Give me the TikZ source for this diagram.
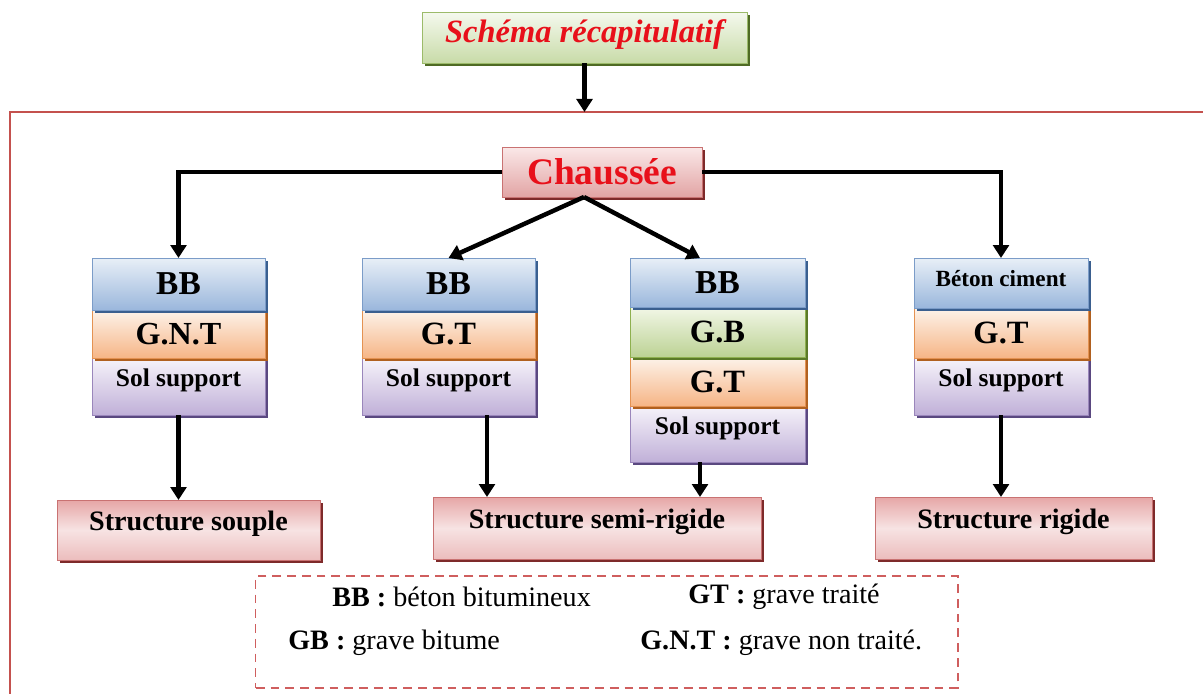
\documentclass[tikz,border=0pt]{standalone}
\usepackage{fontspec}
\setmainfont{Liberation Serif}
\usetikzlibrary{arrows.meta,shadows,calc}
\newlength\upx \setlength\upx{0.02cm}
\definecolor{bluTop}{HTML}{E8EFF7}
\definecolor{bluBot}{HTML}{9AB7DC}
\definecolor{bluLine}{HTML}{7B9CC8}
\definecolor{bluSh}{HTML}{3A5F8F}
\definecolor{orTop}{HTML}{FDF3EA}
\definecolor{orBot}{HTML}{F6B586}
\definecolor{orLine}{HTML}{E49252}
\definecolor{orSh}{HTML}{B0601F}
\definecolor{puTop}{HTML}{F6F3FA}
\definecolor{puBot}{HTML}{C0B0D8}
\definecolor{puLine}{HTML}{9A86BB}
\definecolor{puSh}{HTML}{5A4880}
\definecolor{grTop}{HTML}{F2F7E7}
\definecolor{grBot}{HTML}{BCD294}
\definecolor{grLine}{HTML}{8EB04F}
\definecolor{grSh}{HTML}{5B7A28}
\definecolor{pkTop}{HTML}{E6A6A6}
\definecolor{pkMid}{HTML}{F7E3E3}
\definecolor{pkBot}{HTML}{ECBDBD}
\definecolor{pkLine}{HTML}{C97272}
\definecolor{pkSh}{HTML}{7E2A2A}
\definecolor{chTop}{HTML}{FAE8E8}
\definecolor{chBot}{HTML}{E2A4A4}
\definecolor{tiTop}{HTML}{F5F9EE}
\definecolor{tiBot}{HTML}{C8DBA8}
\definecolor{tiLine}{HTML}{9CBB6A}
\definecolor{tiSh}{HTML}{4F6B25}
\definecolor{frameRed}{HTML}{C4514E}
\definecolor{dashRed}{HTML}{CF5E5E}
\definecolor{txtRed}{HTML}{E8101A}
\tikzset{
  boxbase/.style={inner sep=0pt, outer sep=0pt, anchor=north west, line width=0.5pt, text=black},
  sz/.style={font=\fontsize{#1pt}{#1pt}\selectfont\bfseries},
  shd/.style={drop shadow={shadow xshift=1.7pt, shadow yshift=-1.7pt, fill=#1, opacity=1}},
  bluelayer/.style={boxbase, draw=bluLine, top color=bluTop, bottom color=bluBot, shd=bluSh},
  orangelayer/.style={boxbase, draw=orLine, top color=orTop, bottom color=orBot, shd=orSh},
  purplelayer/.style={boxbase, draw=puLine, top color=puTop, bottom color=puBot, shd=puSh, text depth=9.6pt},
  greenlayer/.style={boxbase, draw=grLine, top color=grTop, bottom color=grBot, shd=grSh},
  pinkbox/.style={boxbase, draw=pkLine, top color=pkTop, bottom color=pkBot, middle color=pkMid, shd=pkSh},
  chbox/.style={boxbase, draw=pkLine, top color=chTop, bottom color=chBot, shd=pkSh},
  arr/.style={line width=2.55pt, -{Triangle[width=9pt,length=7.4pt]}},
  legtext/.style={anchor=west, inner sep=0pt, font=\fontsize{16pt}{16pt}\selectfont},
}
\begin{document}
\begin{tikzpicture}[x=0.02cm, y=-0.02cm]
\useasboundingbox (0,0) rectangle (1203,693);
\clip (0,0) rectangle (1203,693);
\fill[white] (0,0) rectangle (1203,693);

% outer frame (extends past right and bottom edges)
\draw[frameRed, line width=1.7pt] (1230,112) -- (10,112) -- (10,720);
\coordinate (ftop) at (585,112);

% title
\node[boxbase, draw=tiLine, top color=tiTop, bottom color=tiBot, shd=tiSh,
      minimum width=325\upx, minimum height=51\upx, text depth=7.5pt,
      text=txtRed, font=\fontsize{18.5pt}{18.5pt}\selectfont\bfseries\itshape]
      (ttl) at (422,12) {Schéma récapitulatif};

% Chaussee
\node[chbox, minimum width=200\upx, minimum height=50\upx, text=txtRed, sz=21.3]
      (ch) at (502,147) {Chaussée};

% column 1
\node[purplelayer, minimum width=173\upx, minimum height=57\upx, sz=14.5] (c1sol) at (92,358) {Sol support};
\node[orangelayer, minimum width=173\upx, minimum height=48\upx, sz=18.3] (c1gnt) at (92,310) {G.N.T};
\node[bluelayer,   minimum width=173\upx, minimum height=52\upx, sz=19] (c1bb) at (92,258) {BB};

% column 2
\node[purplelayer, minimum width=173\upx, minimum height=57\upx, sz=14.5] (c2sol) at (362,358) {Sol support};
\node[orangelayer, minimum width=173\upx, minimum height=48\upx, sz=18.5] (c2gt) at (362,310) {G.T};
\node[bluelayer,   minimum width=173\upx, minimum height=52\upx, sz=19] (c2bb) at (362,258) {BB};

% column 3
\node[purplelayer, minimum width=175\upx, minimum height=56\upx, sz=14.5] (c3sol) at (630,406) {Sol support};
\node[orangelayer, minimum width=175\upx, minimum height=49\upx, sz=18.5] (c3gt) at (630,357) {G.T};
\node[greenlayer,  minimum width=175\upx, minimum height=50\upx, sz=18.5] (c3gb) at (630,307) {G.B};
\node[bluelayer,   minimum width=175\upx, minimum height=49\upx, sz=19] (c3bb) at (630,258) {BB};

% column 4
\node[purplelayer, minimum width=174\upx, minimum height=57\upx, sz=14.5] (c4sol) at (914,358) {Sol support};
\node[orangelayer, minimum width=174\upx, minimum height=50\upx, sz=18.5] (c4gt) at (914,308) {G.T};
\node[bluelayer,   minimum width=174\upx, minimum height=50\upx, sz=13.2, text depth=5.7pt] (c4bb) at (914,258) {Béton ciment};

% structures
\node[pinkbox, minimum width=263\upx, minimum height=60\upx, sz=16, text depth=11pt] (ss) at (57,500) {Structure souple};
\node[pinkbox, minimum width=328\upx, minimum height=62\upx, sz=16, text depth=11pt] (ssr) at (433,497) {Structure semi-rigide};
\node[pinkbox, minimum width=277\upx, minimum height=62\upx, sz=16, text depth=11pt] (sr) at (875,497) {Structure rigide};

% connectors
\draw[arr] (ttl.south) -- (ttl.south |- ftop);
\draw[arr] (ch.west) -| (c1bb.north);
\draw[arr] (ch.east) -| (c4bb.north);
\coordinate (apex) at ([xshift=82\upx]ch.south west);
\coordinate (c3in) at ([xshift=70\upx]c3bb.north west);
\draw[arr] (apex) -- (c2bb.north);
\draw[arr] (apex) -- (c3in);
\draw[arr] (c1sol.south) -- (c1sol.south |- ss.north);
\coordinate (c2out) at ([xshift=125\upx]c2sol.south west);
\draw[arr] (c2out) -- (c2out |- ssr.north);
\coordinate (c3out) at ([xshift=70\upx]c3sol.south west);
\draw[arr] (c3out) -- (c3out |- ssr.north);
\draw[arr] (c4sol.south) -- (c4sol.south |- sr.north);

% legend
\node[anchor=north west, inner sep=0pt, draw=dashRed, line width=0.85pt,
      dash pattern=on 5pt off 3.4pt, minimum width=702\upx, minimum height=112\upx]
      (leg) at (255,575) {};
\node[legtext] (lbb) at (332,597) {\textbf{BB :} béton bitumineux};
\node[legtext] (lgt) at (688,597) {\textbf{GT :} grave traité};
\node[legtext] (lgb) at (288,643) {\textbf{GB :} grave bitume};
\node[legtext] (lgnt) at (640,643) {\textbf{G.N.T :} grave non traité.};
\end{tikzpicture}
\end{document}
